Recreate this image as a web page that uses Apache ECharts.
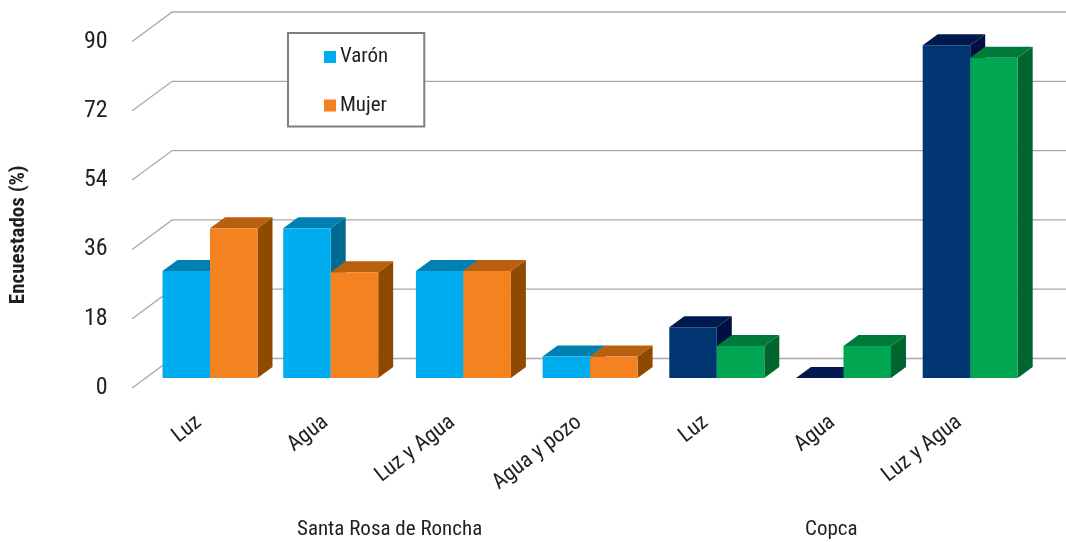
<!DOCTYPE html>
<html><head><meta charset="utf-8">
<style>html,body{margin:0;padding:0;background:#fff}#c{width:1066px;height:542px}</style>
<script src="https://cdn.jsdelivr.net/npm/echarts@6/dist/echarts.min.js"></script>
</head><body><div id="c"></div>
<script>
const categories = ['Luz','Agua','Luz y Agua','Agua y pozo','Luz','Agua','Luz y Agua'];
const groups = ['Santa Rosa de Roncha','Copca'];
const varon = [27.8,38.9,27.8,5.6,13.2,0,86.4];
const mujer = [38.9,27.5,27.8,5.6,8.3,8.3,83.2];
const yTicks = [0,18,36,54,72,90];

const FONT = '"Roboto Condensed","Open Sans",sans-serif';
const TXT = '#231f20';
const palette = {
  varon: {a:{f:'#00AEEF',t:'#0080B0',s:'#006A94'}, b:{f:'#003572',t:'#00194F',s:'#001040'}},
  mujer: {a:{f:'#F58220',t:'#B86010',s:'#8F4A00'}, b:{f:'#00A651',t:'#007A3A',s:'#00652E'}}
};
const BAR_W=47.5, DX=15, DY=11, FLOOR_UP=10, SHIFT=11, NUDGE={1:-6};
const WALL_DX=40, WALL_DY=29.5, WALL_START=-3.5;

function barItem(side, pal){
  return function(params, api){
    const i=api.value(0), v=api.value(1);
    const p=api.coord([i,v]), z=api.coord([i,0]);
    const cx=p[0]+SHIFT+(NUDGE[i]||0);
    const x0=side<0?cx-BAR_W:cx, x1=x0+BAR_W;
    const yt=p[1]-FLOOR_UP, yb=z[1]-FLOOR_UP;
    const c=i<4?pal.a:pal.b;
    const kids=[
      {type:'polygon',shape:{points:[[x1,yt],[x1+DX,yt-DY],[x1+DX,yb-DY],[x1,yb]]},style:{fill:c.s}},
      {type:'polygon',shape:{points:[[x0,yt],[x0+DX,yt-DY],[x1+DX,yt-DY],[x1,yt]]},style:{fill:c.t}}
    ];
    if(v>0) kids.push({type:'rect',shape:{x:x0,y:yt,width:BAR_W,height:yb-yt},style:{fill:c.f}});
    return {type:'group',children:kids};
  };
}
function wallItem(params, api){
  const r=api.coord([0,api.value(0)]);
  const y=r[1], x0=params.coordSys.x+WALL_START, x1=x0+WALL_DX, y1=y-WALL_DY;
  const ls={stroke:'#a9a9a9',lineWidth:1.3,fill:null};
  return {type:'polyline',shape:{points:[[x0,y],[x1,y1],[api.getWidth(),y1]]},style:ls};
}
const chart=echarts.init(document.getElementById('c'),null,{renderer:'canvas'});
chart.setOption({
  animation:false,
  backgroundColor:'#fff',
  grid:{left:135.65,width:886.9,top:41.5,height:346.5,containLabel:false,outerBoundsMode:'none'},
  legend:{
    left:288,top:33,orient:'vertical',
    padding:[12,36,9,36],itemGap:24.5,itemWidth:12,itemHeight:12,
    backgroundColor:'#fff',borderColor:'#7f7f7f',borderWidth:2,
    icon:'rect',
    textStyle:{fontFamily:FONT,fontSize:21,color:TXT,lineHeight:24,padding:[0,0,0,-1]},
    data:['Varón','Mujer']
  },
  xAxis:{type:'category',data:categories,
    axisLine:{show:false},axisTick:{show:false},splitLine:{show:false},
    axisLabel:{rotate:38,margin:32,interval:0,fontFamily:FONT,fontSize:22,color:TXT}},
  yAxis:{type:'value',min:0,max:90,interval:18,
    axisLine:{show:false},axisTick:{show:false},splitLine:{show:false},
    axisLabel:{margin:28,fontFamily:FONT,fontSize:24,color:TXT},
    name:'Encuestados (%)',nameLocation:'middle',nameGap:106,
    nameTextStyle:{fontFamily:FONT,fontSize:21,fontWeight:'bold',color:TXT,padding:[0,40,0,0]}},
  graphic:[
    {type:'text',left:297,top:519,style:{text:groups[0],font:'21px '+FONT,fill:TXT}},
    {type:'text',left:805,top:519,style:{text:groups[1],font:'21px '+FONT,fill:TXT}}
  ],
  series:[
    {type:'custom',name:'wall',renderItem:wallItem,data:yTicks.map(v=>[v]),encode:{y:0},clip:false,silent:true,z:1},
    {type:'custom',name:'Varón',renderItem:barItem(-1,palette.varon),data:varon.map((v,i)=>[i,v]),encode:{x:0,y:1},clip:false,itemStyle:{color:palette.varon.a.f},z:2},
    {type:'custom',name:'Mujer',renderItem:barItem(1,palette.mujer),data:mujer.map((v,i)=>[i,v]),encode:{x:0,y:1},clip:false,itemStyle:{color:palette.mujer.a.f},z:3}
  ]
});
</script></body></html>
